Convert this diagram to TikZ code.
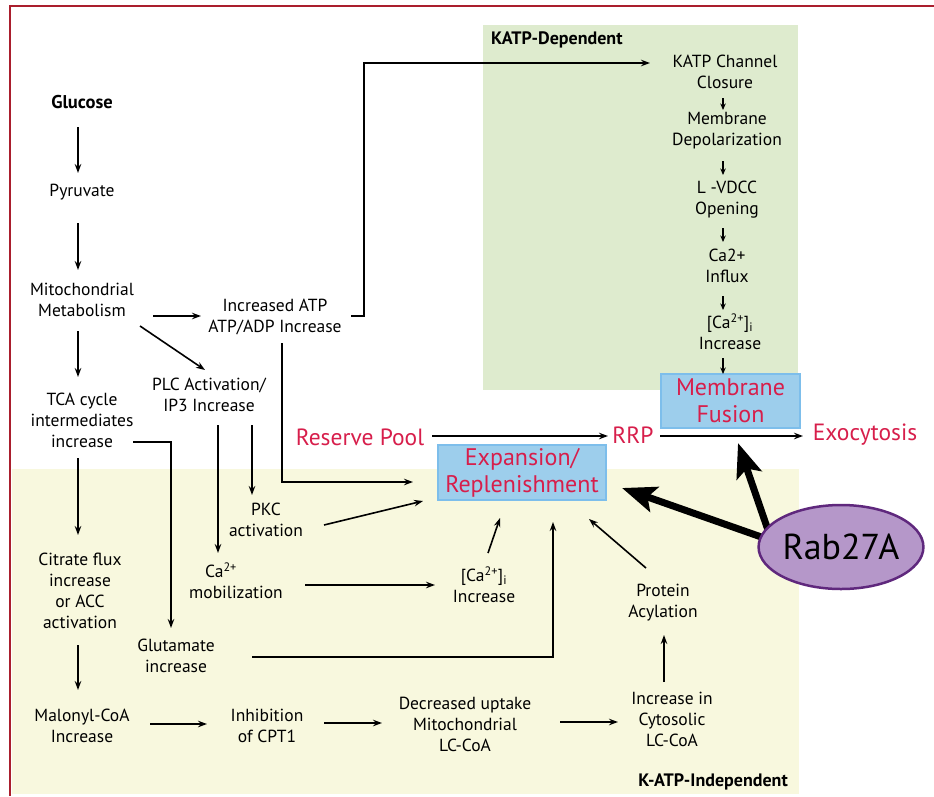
\documentclass[tikz,border=0pt]{standalone}
\usepackage{fontspec}
\setmainfont{PT Sans}
\usetikzlibrary{arrows.meta,calc,shapes.geometric}
\definecolor{framered}{RGB}{170,30,45}
\definecolor{txtred}{RGB}{215,30,75}
\definecolor{kgreen}{RGB}{222,235,206}
\definecolor{kyellow}{RGB}{248,248,222}
\definecolor{boxblue}{RGB}{157,206,236}
\definecolor{boxedge}{RGB}{125,190,235}
\definecolor{rabfill}{RGB}{181,151,201}
\definecolor{rabedge}{RGB}{95,40,125}
\tikzset{
  txt/.style={align=center,inner sep=0pt,font=\fontsize{17.5}{21}\selectfont},
  redtxt/.style={align=center,inner sep=0pt,text=txtred,font=\fontsize{23.5}{27}\selectfont},
  bluebox/.style={draw=boxedge,fill=boxblue,line width=1.2pt,inner sep=0pt,align=center,text=txtred,font=\fontsize{24}{27}\selectfont},
  arr/.style={line width=1.6pt,-{Stealth[length=9pt,width=6.5pt]}},
  smallarr/.style={line width=1.4pt,-{Stealth[length=6.5pt,width=5.5pt]}},
  thickarr/.style={line width=7pt,-{Stealth[length=34pt,width=26pt,inset=7pt]}},
  sectlabel/.style={inner sep=0pt,font=\fontsize{18}{20}\selectfont\bfseries}
}
\begin{document}
\begin{tikzpicture}[x=1pt,y=-1pt]
\useasboundingbox (0,0) rectangle (934,796);
% backgrounds
\fill[kgreen] (483,25) rectangle (798,390);
\fill[kyellow] (12,469) rectangle (799,794);
\draw[framered,line width=2pt] (10,796) -- (10,6) -- (934,6);
% section labels
\node[sectlabel,anchor=west] (kdep) at (491,40) {KATP-Dependent};
\node[sectlabel,anchor=east] (kindep) at (788,782) {K-ATP-Independent};
% nodes
\node[txt,font=\fontsize{18.5}{21}\selectfont\bfseries] (glu) at (82,102) {Glucose};
\node[txt] (pyr) at (82,192) {Pyruvate};
\node[txt] (mito) at (82,300) {Mitochondrial\\Metabolism};
\node[txt] (tca) at (82,420) {TCA cycle\\intermediates\\increase};
\node[txt] (atp) at (275,317) {Increased ATP\\ATP/ADP Increase};
\node[txt] (plc) at (209,395) {PLC Activation/\\IP3 Increase};
\node[txt] (pkc) at (266,520) {PKC\\activation};
\node[txt] (camob) at (236,581) {\hspace*{-30pt}Ca\textsuperscript{2+}\\mobilization};
\node[txt] (cai) at (484,585) {[Ca\textsuperscript{2+}]\textsubscript{i}\\Increase};
\node[txt] (cit) at (80,591) {Citrate flux\\increase\\or ACC\\activation};
\node[txt] (glut) at (176,656) {Glutamate\\increase};
\node[txt] (mal) at (82,726) {Malonyl-CoA\\Increase};
\node[txt] (inh) at (267,726) {Inhibition\\of CPT1};
\node[txt] (dec) at (465,724) {Decreased uptake\\Mitochondrial\\LC-CoA};
\node[txt] (cyt) at (672,719) {Increase in\\Cytosolic\\LC-CoA};
\node[txt] (acyl) at (663,603) {Protein\\Acylation};
\node[txt] (katp) at (725,72) {KATP Channel\\Closure};
\node[txt] (depol) at (727,131) {Membrane\\Depolarization};
\node[txt] (vdcc) at (727,200) {L -VDCC\\Opening};
\node[txt] (influx) at (727,266) {Ca2+\\Influx};
\node[txt] (caik) at (730,332) {[Ca\textsuperscript{2+}]\textsubscript{i}\\Increase};
\node[bluebox,minimum width=139pt,minimum height=54pt] (fusion) at (730.5,401) {Membrane\\Fusion};
\node[bluebox,minimum width=168pt,minimum height=55pt] (exp) at (522,472.5) {Expansion/\\Replenishment};
\node[redtxt] (reserve) at (360,437) {Reserve Pool};
\node[redtxt] (rrp) at (633,435) {RRP};
\node[redtxt] (exo) at (865,435) {Exocytosis};
% main pathway arrows
\draw[arr] ($(glu)+(-4,25)$) -- ($(pyr)+(-4,-19)$);
\draw[arr] ($(pyr)+(-4,31)$) -- ($(mito)+(-4,-30)$);
\draw[arr] ($(mito)+(-4,31)$) -- ($(tca)+(-4,-43)$);
\draw[arr] ($(mito)+(71,16)$) -- ($(atp)+(-74,-1)$);
\draw[arr] ($(mito)+(58,26)$) -- ($(plc)+(-4,-25)$);
\draw[arr] ($(atp)+(76,-1)$) -- ++(13,0) |- ($(katp)+(-75,-9)$);
\draw[arr] ($(atp)+(7,26)$) |- ($(exp)+(-109,9.5)$);
\draw[arr] ($(plc)+(9,30)$) -- ($(camob)+(-18,-28)$);
\draw[arr] ($(plc)+(43,30)$) -- ($(pkc)+(-14,-25)$);
\draw[arr] ($(tca)+(51,22)$) -| ($(glut)+(-5,-28)$);
\draw[arr] ($(tca)+(-4,38)$) -- ($(cit)+(-2,-56)$);
\draw[arr] ($(cit)+(-2,54)$) -- ($(mal)+(-4,-36)$);
\draw[arr] ($(mal)+(68,-2)$) -- ($(inh)+(-60,-2)$);
\draw[arr] ($(inh)+(57,-3)$) -- ($(dec)+(-83,-1)$);
\draw[arr] ($(dec)+(95,-2)$) -- ($(cyt)+(-54,3)$);
\draw[arr] ($(cyt)+(-8,-37)$) -- ($(acyl)+(1,32)$);
\draw[arr] ($(acyl)+(-17,-35)$) -- ($(exp)+(67,46.5)$);
\draw[arr] ($(glut)+(76,1)$) -| ($(exp)+(31,49.5)$);
\draw[arr] ($(cai)+(4,-32)$) -- ($(exp)+(-22,45.5)$);
\draw[arr] ($(camob)+(69,4)$) -- ($(cai)+(-49,0)$);
\draw[arr] ($(pkc)+(58,5)$) -- ($(exp)+(-99,28.5)$);
\draw[arr] ($(reserve)+(72,-1)$) -- ($(rrp)+(-25,1)$);
\draw[arr] ($(rrp)+(27,1)$) -- ($(exo)+(-62,1)$);
% KATP chain
\draw[smallarr] ($(katp)+(-2,26)$) -- ($(depol)+(-4,-21)$);
\draw[smallarr] ($(depol)+(-4,30)$) -- ($(vdcc)+(-4,-25)$);
\draw[smallarr] ($(vdcc)+(-4,28)$) -- ($(influx)+(-4,-24)$);
\draw[smallarr] ($(influx)+(-4,30)$) -- ($(caik)+(-7,-22)$);
\draw[smallarr] ($(caik)+(-7,26)$) -- ($(fusion)+(-7.5,-27)$);
% Rab27A
\coordinate (rabc) at (841,547);
\draw[thickarr] ($(rabc)+(-74,-8)$) -- ($(exp)+(100,15.5)$);
\draw[thickarr] ($(rabc)+(-72,-14)$) -- ($(fusion)+(7.5,42)$);
\node[draw=rabedge,fill=rabfill,line width=2.5pt,ellipse,minimum width=158pt,minimum height=84pt,inner sep=0pt,font=\fontsize{36}{40}\selectfont] (rab) at (rabc) {Rab27A};
\end{tikzpicture}
\end{document}
